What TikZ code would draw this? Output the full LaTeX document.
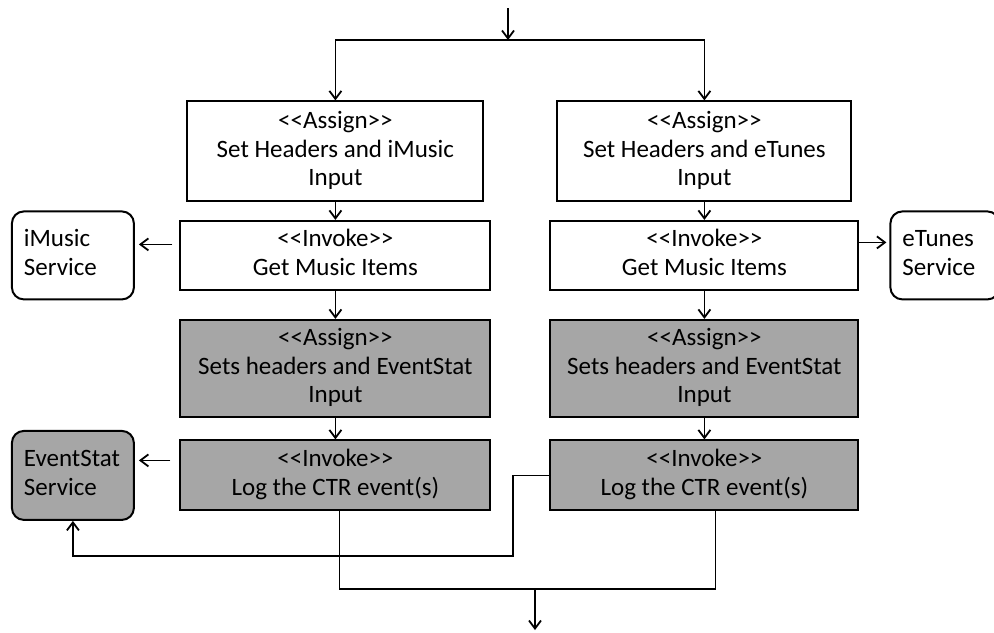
\documentclass[tikz,border=0pt]{standalone}
\usepackage{fontspec}
\newfontfamily\carlito{Carlito}
\usetikzlibrary{matrix,arrows.meta}

\newcommand\stepdesc[2]{\begin{tabular}{@{}c@{}}<{}<#1>{}>\\#2\end{tabular}}
\newcommand\svcdesc[1]{\begin{tabular}{@{}l@{}}#1\\Service\end{tabular}}

\tikzset{
  stepbox/.style={draw, line width=1pt},
  graybox/.style={stepbox, fill=black!35},
  svcbox/.style={draw, line width=1pt, rounded corners=6pt, minimum height=44pt,
                 minimum width=61pt, inner xsep=6pt, text width=49pt, align=left},
  arr/.style={-{Straight Barb[length=4pt,width=6pt]}, line width=0.9pt},
  link/.style={line width=0.9pt}
}

\begin{document}
\begin{tikzpicture}[x=0.5pt, y=-0.5pt]
\useasboundingbox (0,0) rectangle (994,632);
\matrix[matrix of nodes, anchor=north west, inner sep=0pt,
        nodes={anchor=center, inner sep=0pt, font=\carlito\fontsize{12.5}{14.2}\selectfont},
        column sep=15pt, row sep=4pt,
        column 2/.style={nodes={minimum width=155pt}},
        column 3/.style={nodes={minimum width=154pt}},
        row 1/.style={nodes={minimum height=50pt}},
        row 2/.style={nodes={minimum height=34.5pt}},
        row 3/.style={nodes={minimum height=48.5pt}},
        row 4/.style={nodes={minimum height=35pt}}] (flow) at (10.5,100) {
    &[7.25pt] |[stepbox, minimum width=148pt]| \stepdesc{Assign}{Set Headers and iMusic\\Input}
    &[14pt] |[stepbox, minimum width=147pt]| \stepdesc{Assign}{Set Headers and eTunes\\Input}
    & \\
    |[svcbox]| \svcdesc{iMusic}
    &[7.25pt] |[stepbox]| \stepdesc{Invoke}{Get Music Items}
    &[14pt] |[stepbox]| \stepdesc{Invoke}{Get Music Items}
    & |[svcbox, minimum width=54.5pt, text width=42.5pt]| \svcdesc{eTunes} \\[5.25pt]
    &[7.25pt] |[graybox]| \stepdesc{Assign}{Sets headers and EventStat\\Input}
    &[14pt] |[graybox]| \stepdesc{Assign}{Sets headers and EventStat\\Input}
    & \\[2pt]
    |[svcbox, fill=black!35, minimum height=44.5pt]| \svcdesc{EventStat}
    &[7.25pt] |[graybox]| \stepdesc{Invoke}{Log the CTR event(s)}
    &[14pt] |[graybox]| \stepdesc{Invoke}{Log the CTR event(s)}
    & \\
};

\coordinate (in) at (508,8);
\coordinate (fork) at (508,40);
\coordinate (loop) at (513,556);
\coordinate (merge) at (535,589);
\coordinate (out) at (535,630);

% entry and fork
\draw[arr] (in) -- (fork);
\draw[arr] (fork) -| (flow-1-2);
\draw[arr] (fork) -| (flow-1-3);

% steps down each branch
\foreach \c in {2,3}
  \foreach \r/\s in {1/2,2/3,3/4}
    \draw[arr] (flow-\r-\c) -- (flow-\s-\c);

% calls to the services
\draw[arr, shorten <=3.5pt, shorten >=2pt] ([yshift=5.5pt]flow-2-2.west) -- ([yshift=5.5pt]flow-2-2.west -| flow-2-1.east);
\draw[arr, shorten >=1.5pt] ([yshift=6.5pt]flow-2-3.east) -- ([yshift=6.5pt]flow-2-3.east -| flow-2-4.west);
\draw[arr, shorten <=4.5pt, shorten >=2pt] ([yshift=7.5pt]flow-4-2.west) -- ([yshift=7.5pt]flow-4-2.west -| flow-4-1.east);
\draw[arr] (flow-4-3.west) -| (loop) -| (flow-4-1.south);

% merge and exit
\draw[link] ([xshift=2pt]flow-4-2.south) |- (merge) -| ([xshift=5.5pt]flow-4-3.south);
\draw[arr] (merge) -- (out);
\end{tikzpicture}
\end{document}
